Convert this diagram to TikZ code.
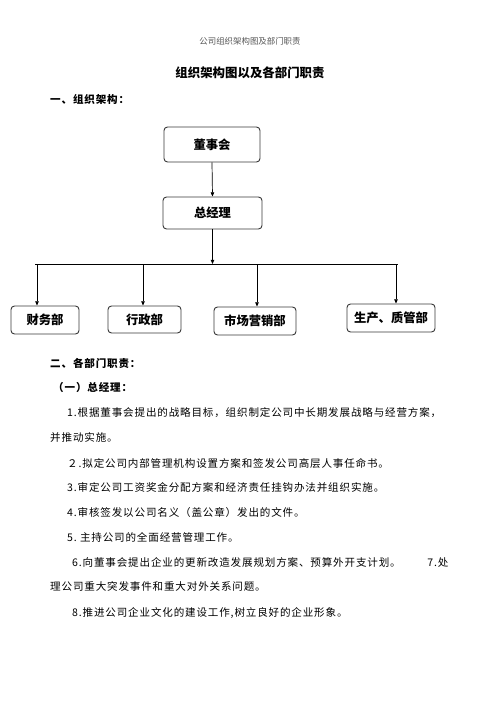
\documentclass[tikz,border=0pt]{standalone}
\usepackage{fontspec}
\setmainfont{Noto Sans CJK SC}
\newfontfamily\bodyfont[LetterSpace=8]{Noto Sans CJK SC}
\usetikzlibrary{positioning,arrows.meta}
\definecolor{boxline}{HTML}{3A3A3A}
\definecolor{headgray}{HTML}{555555}
\tikzset{
  box/.style={draw=boxline, line width=0.8pt, rounded corners=3pt,
    fill=white, text=black, align=center, inner sep=1pt,
    font=\fontsize{10.5}{12}\selectfont\bfseries},
  arr/.style={-{Triangle[length=3.6pt, width=3pt]}, draw=black, line width=0.6pt},
  bus/.style={draw=black, line width=0.7pt},
  txt/.style={anchor=west, inner sep=0pt, text=black,
    font=\bodyfont\fontsize{9}{11}\selectfont},
  head/.style={anchor=west, inner sep=0pt, text=black,
    font=\bodyfont\fontsize{9}{11}\selectfont\bfseries}}

\begin{document}
\begin{tikzpicture}[x=0.03cm, y=-0.03cm]
    \useasboundingbox[fill=white] (0,0) rectangle (496,702);
    % page header and titles
    \node[inner sep=0pt, text=headgray, font=\fontsize{7.2}{8}\selectfont] (pagehead) at (250,41) {公司组织架构图及部门职责};
    \node[inner sep=0pt, font=\fontsize{10.6}{12}\selectfont\bfseries] (title) at (250,73) {组织架构图以及各部门职责};
    \node[head] (sec1) at (50,99) {一、组织架构：};
    % chart
    \node[box, minimum width=2.88cm, minimum height=1.05cm] (board) at (212,144.5) {董事会};
    \node[box, minimum width=2.97cm, minimum height=0.96cm] (gm)    at (212.5,213) {总经理};
    \node[box, minimum width=2.04cm, minimum height=0.84cm] (fin)   at (45,320)    {财务部};
    \node[box, minimum width=2.19cm, minimum height=0.81cm] (admin) at (144.5,319.5) {行政部};
    \node[box, minimum width=2.46cm, minimum height=0.84cm] (mkt)   at (255,321)   {市场营销部};
    \node[box, minimum width=2.64cm, minimum height=0.84cm] (prod)  at (391,318)   {生产、质管部};
    \coordinate (busL) at (35,264);
    \coordinate (busR) at (398,264);
    \coordinate (t1) at (37,264);
    \coordinate (t2) at (143,264);
    \coordinate (t3) at (257,264);
    \coordinate (t4) at (396,264);
    \draw[arr] (board.south) -- (gm.north);
    \draw[bus] (busL) -- (busR);
    \draw[arr] (gm.south) -- (gm.south |- busL);
    \draw[arr] (t1) -- (t1 |- fin.north);
    \draw[arr] (t2) -- (t2 |- admin.north);
    \draw[arr] (t3) -- (t3 |- mkt.north);
    \draw[arr] (t4) -- (t4 |- prod.north);
    % duties
    \node[head] (sec2) at (50,363) {二、各部门职责：};
    \node[head] (sub1) at (53,387) {（一）总经理：};
    \node[txt] (l1)  at (67,413) {1.根据董事会提出的战略目标，组织制定公司中长期发展战略与经营方案，};
    \node[txt] (l1b) at (50,437) {并推动实施。};
    \node[txt] (l2)  at (67,463) {２.拟定公司内部管理机构设置方案和签发公司高层人事任命书。};
    \node[txt] (l3)  at (67,487) {3.审定公司工资奖金分配方案和经济责任挂钩办法并组织实施。};
    \node[txt] (l4)  at (67,512) {4.审核签发以公司名义（盖公章）发出的文件。};
    \node[txt] (l5)  at (67,537) {5.\ 主持公司的全面经营管理工作。};
    \node[txt] (l6)  at (72,562) {6.向董事会提出企业的更新改造发展规划方案、预算外开支计划。\hspace{0.8cm}7.处};
    \node[txt] (l6b) at (50,586) {理公司重大突发事件和重大对外关系问题。};
    \node[txt] (l8)  at (72,613) {8.推进公司企业文化的建设工作,树立良好的企业形象。};
\end{tikzpicture}
\end{document}
